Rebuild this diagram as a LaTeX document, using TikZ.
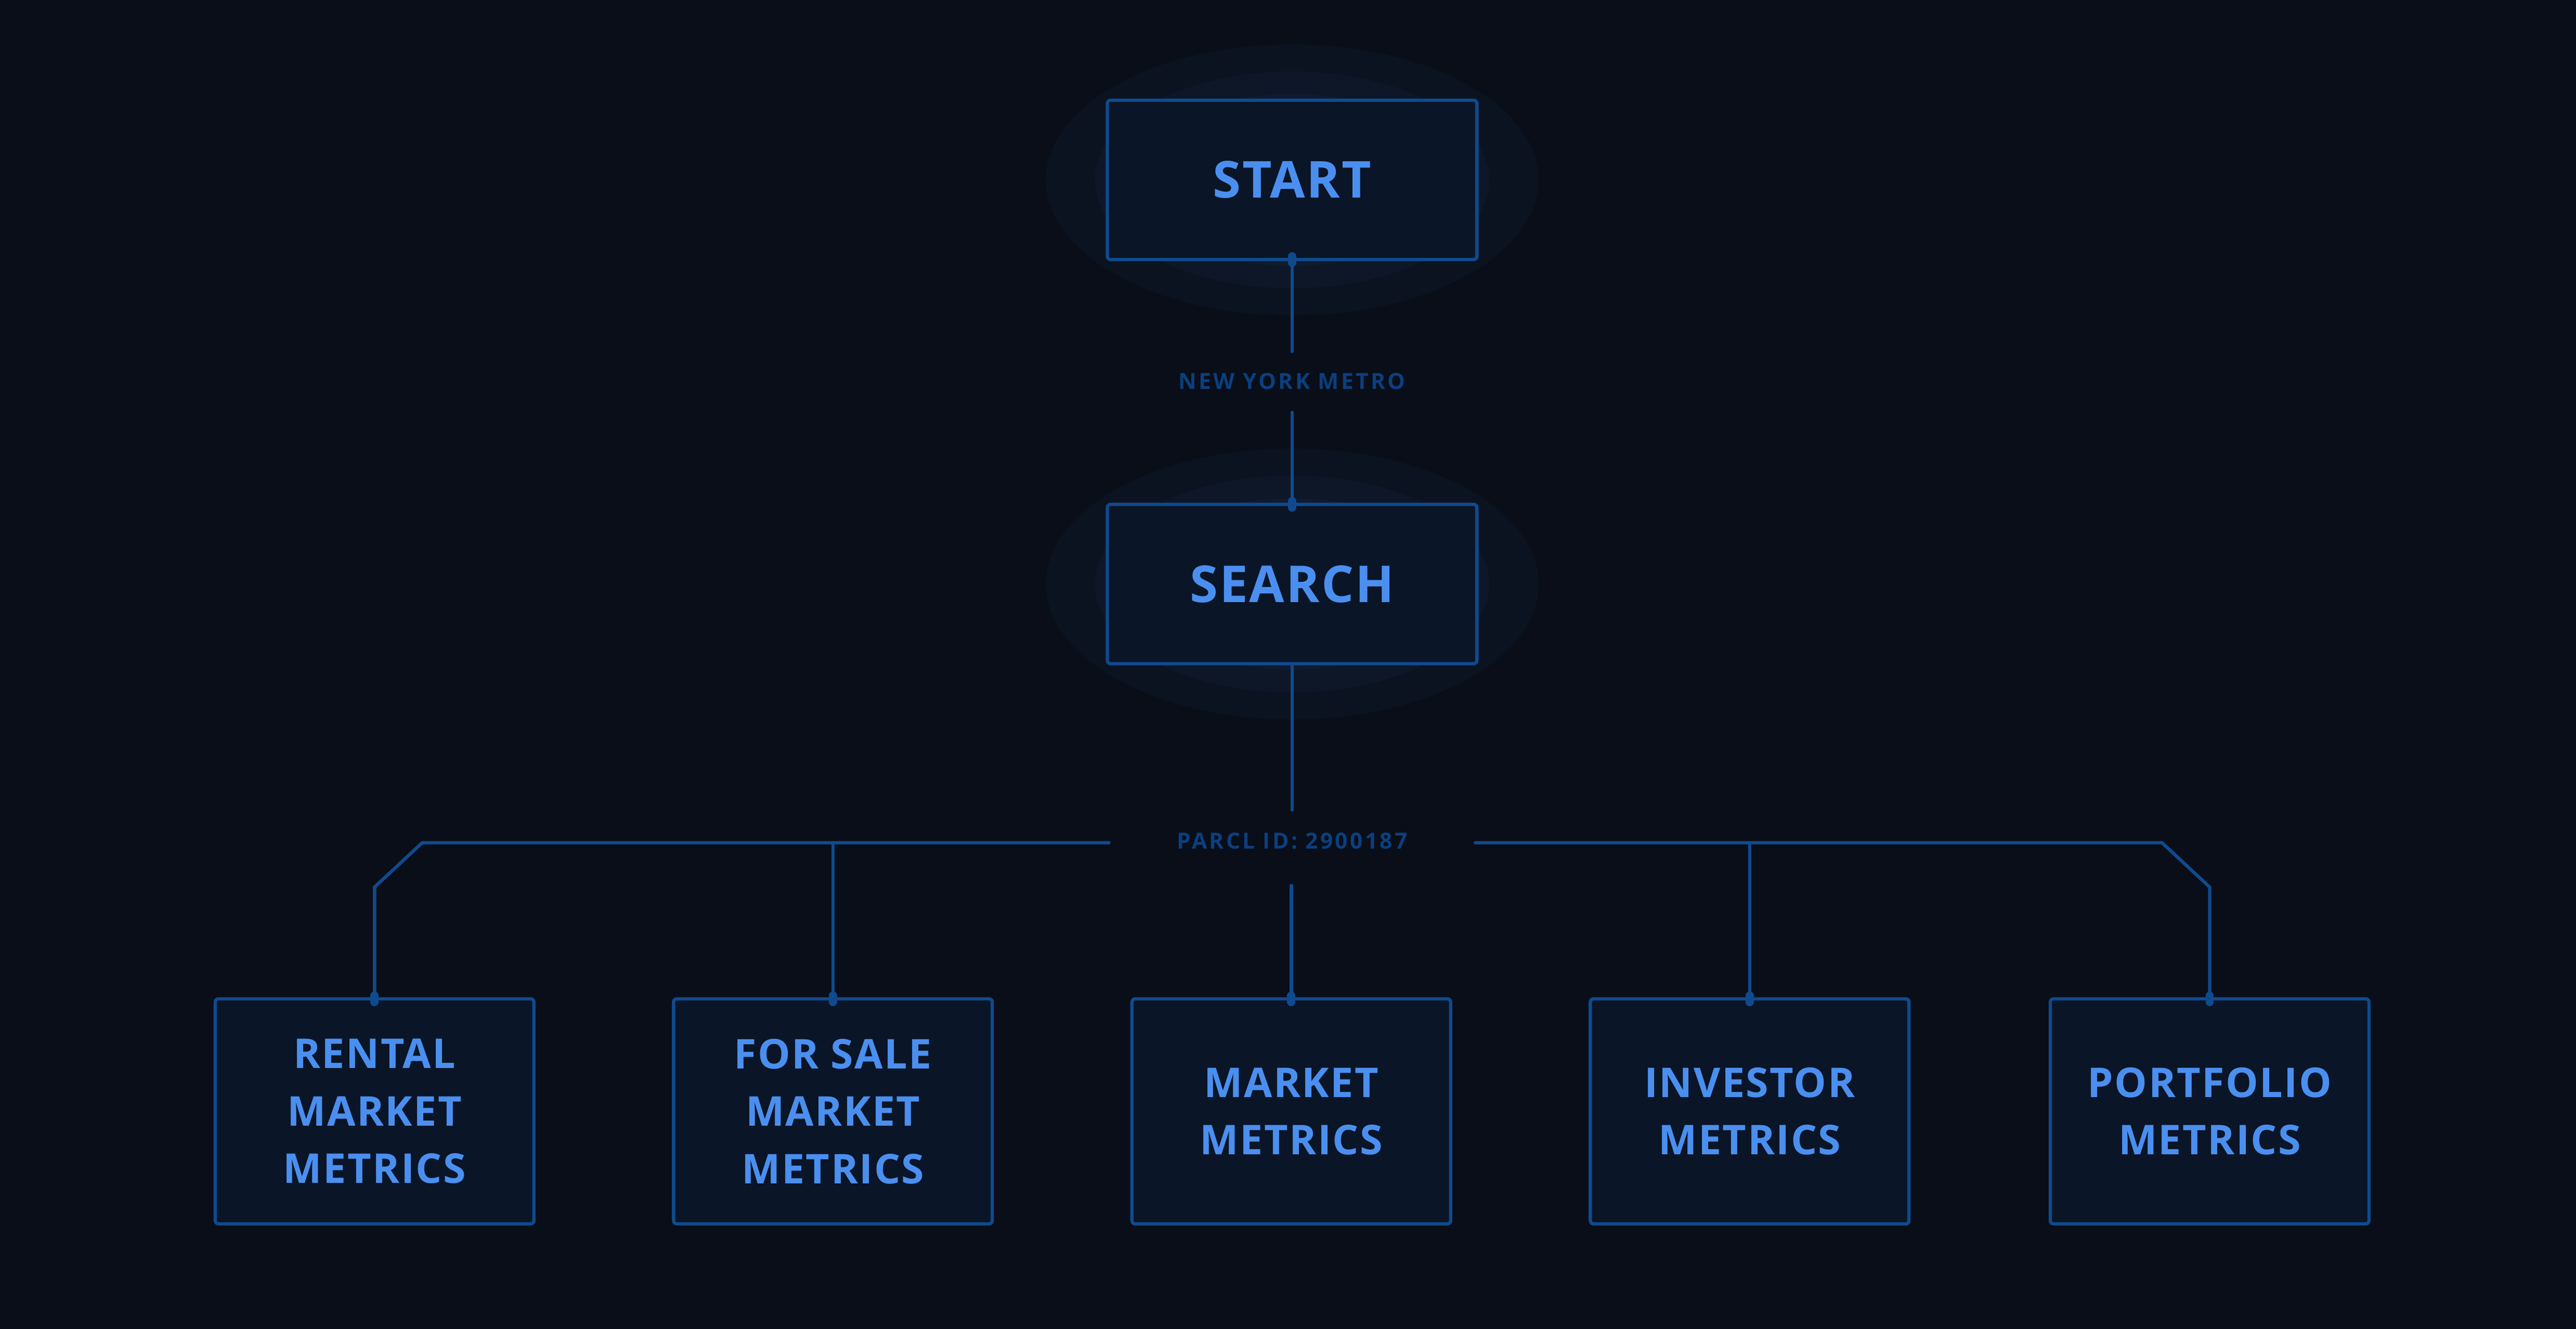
\documentclass[tikz,border=0pt]{standalone}
\usepackage{fontspec}
\setmainfont{Open Sans}
\usetikzlibrary{positioning}
\definecolor{bg}{HTML}{090E18}
\definecolor{boxfill}{HTML}{0A1527}
\definecolor{edge}{HTML}{0F4A8E}
\definecolor{txt}{HTML}{4A8FEF}
\definecolor{lbl}{HTML}{0B3F7F}
\tikzset{
  x=1pt,y=-1pt,
  box/.style={draw=edge,fill=boxfill,line width=2pt,rounded corners=2pt,inner sep=0pt,align=center,text=txt,font=\bfseries},
  bigbox/.style={box,minimum width=225pt,minimum height=97pt,font=\fontsize{31}{36}\selectfont\bfseries\addfontfeatures{LetterSpace=3}},
  leafbox/.style={box,minimum width=194pt,minimum height=137pt,font=\fontsize{25}{35}\selectfont\bfseries\addfontfeatures{LetterSpace=3}},
  lab/.style={text=lbl,font=\fontsize{13.5}{16}\selectfont\bfseries\addfontfeatures{LetterSpace=10},inner sep=0pt},
  conn/.style={draw=edge,line width=2pt,line cap=round},
  stub/.style={draw=edge,line width=5pt,line cap=round},
  glow/.style={fill=txt,opacity=0.04}
}
\begin{document}
\begin{tikzpicture}
\fill[bg] (0,0) rectangle (1568,809);
\useasboundingbox (0,0) rectangle (1568,809);
% glows
\foreach \r in {150,120,95}{\fill[glow] (786.5,109.5) circle[x radius=\r pt,y radius=0.55*\r pt];}
\foreach \r in {150,120,95}{\fill[glow] (786.5,355.5) circle[x radius=\r pt,y radius=0.55*\r pt];}
\node[bigbox] (start) at (786.5,109.5) {START};
\node[bigbox] (search) at (786.5,355.5) {SEARCH};
\node[lab] (nym) at (786.5,232) {NEW YORK METRO};
\node[lab] (parcl) at (786.5,512) {PARCL ID: 2900187};
\node[leafbox] (l1) at (228,676.5) {RENTAL\\MARKET\\METRICS};
\node[leafbox] (l2) at (507,676.5) {FOR SALE\\MARKET\\METRICS};
\node[leafbox] (l3) at (786,676.5) {MARKET\\METRICS};
\node[leafbox] (l4) at (1065,676.5) {INVESTOR\\METRICS};
\node[leafbox] (l5) at (1345,676.5) {PORTFOLIO\\METRICS};
\coordinate (hl) at (675,513);
\coordinate (hr) at (898,513);
% connectors
\draw[conn] (start.south) -- ++(0,55);
\draw[conn] (search.north) -- ++(0,-55);
\draw[stub] ([yshift=3pt]start.south) -- ++(0,4);
\draw[stub] ([yshift=-3pt]search.north) -- ++(0,-4);
\draw[conn] (search.south) -- ++(0,88);
\draw[conn] (l3.north) -- ++(0,-68);
\draw[conn] (hl) -- (257,513) -- (228,540) -- (l1.north);
\draw[conn] (hr) -- (1316,513) -- (1345,540) -- (l5.north);
\draw[conn] (l2.north) -- (507,513);
\draw[conn] (l4.north) -- (1065,513);
\foreach \n in {l1,l2,l3,l4,l5}{\draw[stub] ([yshift=-3pt]\n.north) -- ++(0,-4);}
\end{tikzpicture}
\end{document}
